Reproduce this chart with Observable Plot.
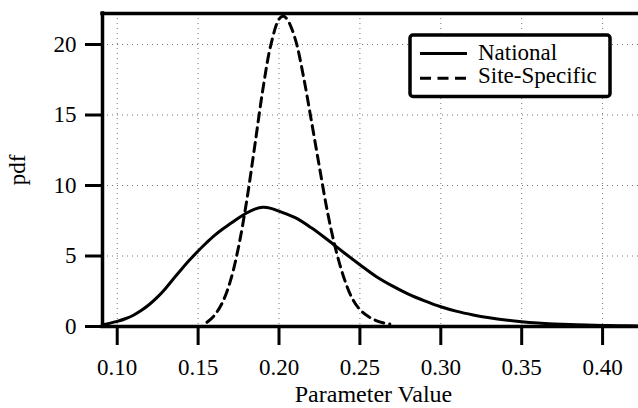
<!DOCTYPE html>
<html>
<head>
<meta charset="utf-8">
<script src="https://cdn.jsdelivr.net/npm/d3@7"></script>
<script src="https://cdn.jsdelivr.net/npm/@observablehq/plot@0.6"></script>
<style>
  html, body { margin: 0; padding: 0; background: #fff; }
  svg { display: block; }
</style>
</head>
<body>
<div id="chart"></div>
<script>
// ---- data ----
const nationalX = [0.092,0.095,0.100,0.105,0.110,0.115,0.120,0.125,0.130,0.135,0.140,0.145,0.150,0.155,0.160,0.165,0.170,0.175,0.180,0.185,0.190,0.195,0.200,0.210,0.220,0.230,0.240,0.250,0.260,0.270,0.280,0.290,0.300,0.310,0.320,0.330,0.340,0.350,0.360,0.370,0.380,0.390,0.400,0.410,0.422];
const nationalPdf = [0.15,0.22,0.36,0.55,0.80,1.15,1.58,2.10,2.72,3.42,4.10,4.75,5.35,5.92,6.45,6.90,7.30,7.70,8.05,8.32,8.45,8.38,8.18,7.72,7.00,6.15,5.25,4.38,3.55,2.88,2.30,1.82,1.40,1.07,0.82,0.62,0.46,0.34,0.25,0.185,0.135,0.10,0.075,0.055,0.04];
const siteX = [0.1555,0.160,0.165,0.170,0.175,0.180,0.185,0.190,0.195,0.200,0.2025,0.205,0.210,0.215,0.220,0.225,0.230,0.235,0.240,0.245,0.250,0.255,0.260,0.265,0.2685];
const sitePdf = [0.30,0.78,1.70,3.25,5.65,8.90,12.8,16.8,20.0,21.8,22.0,21.8,20.4,17.8,14.6,11.3,8.1,5.5,3.5,2.05,1.2,0.72,0.42,0.24,0.17];
const seriesNames = ["National", "Site-Specific"];
const xTicks = [0.10,0.15,0.20,0.25,0.30,0.35,0.40];
const xTickLabels = ["0.10","0.15","0.20","0.25","0.30","0.35","0.40"];
const yTicks = [0,5,10,15,20];
const yTickLabels = ["0","5","10","15","20"];
const xDomain = [0.0909, 0.4222];
const yDomain = [0, 22.2];
const xTitle = "Parameter Value";
const yTitle = "pdf";

const national = nationalX.map((x, i) => ({x, y: nationalPdf[i]}));
const site = siteX.map((x, i) => ({x, y: sitePdf[i]}));

const font = "'Liberation Serif', 'Times New Roman', serif";
const gridStyle = {stroke: "#000", strokeOpacity: 0.55, strokeDasharray: "1,4", strokeWidth: 1};

const chart = Plot.plot({
  width: 638,
  height: 408,
  marginLeft: 102,
  marginRight: 0,
  marginTop: 13,
  marginBottom: 82,
  x: {domain: xDomain},
  y: {domain: yDomain},
  style: {fontFamily: font, fontSize: "23px", color: "#000", background: "#fff", overflow: "visible"},
  marks: [
    Plot.gridX(xTicks, gridStyle),
    Plot.gridY(yTicks.filter(d => d > 0), gridStyle),
    Plot.line(national, {x: "x", y: "y", stroke: "#000", strokeWidth: 3, curve: "catmull-rom"}),
    Plot.line(site, {x: "x", y: "y", stroke: "#000", strokeWidth: 3, strokeDasharray: "9,6", curve: "catmull-rom"}),
    Plot.ruleY([yDomain[0]], {stroke: "#000", strokeWidth: 3.5, strokeLinecap: "square"}),
    Plot.ruleY([yDomain[1]], {stroke: "#000", strokeWidth: 3.5, strokeLinecap: "square"}),
    Plot.ruleX([xDomain[0]], {stroke: "#000", strokeWidth: 3.5, strokeLinecap: "square"}),
    Plot.axisX(xTicks, {tickSize: 19, tickPadding: 13, strokeWidth: 3, fontSize: 23, label: null,
      tickFormat: d => xTickLabels[xTicks.indexOf(d)]}),
    Plot.axisY(yTicks, {tickSize: 17, tickPadding: 9, strokeWidth: 3, fontSize: 23, label: null,
      tickFormat: d => yTickLabels[yTicks.indexOf(d)]}),
    Plot.text([xTitle], {text: d => d, frameAnchor: "bottom", lineAnchor: "middle", textAnchor: "middle", dx: 3, dy: 68, fontSize: 24}),
    Plot.text([yTitle], {text: d => d, frameAnchor: "left", lineAnchor: "middle", textAnchor: "middle", dx: -85, rotate: -90, fontSize: 23})
  ]
});

document.getElementById("chart").appendChild(chart);

const svg = d3.select(chart);
svg.selectAll("text").style("font-family", font);

// ---- legend (drawn inside the plot's svg) ----
const lg = svg.append("g").attr("font-family", font).attr("font-size", 23).attr("fill", "#000")
  .attr("text-anchor", "start");
lg.append("rect")
  .attr("x", 410).attr("y", 35).attr("width", 200).attr("height", 61.5)
  .attr("rx", 3).attr("fill", "#fff").attr("stroke", "#000").attr("stroke-width", 3.5);
const sampleY = [53.5, 78.3];
const labelY = [60.3, 83.3];
seriesNames.forEach((name, i) => {
  lg.append("line")
    .attr("x1", 420).attr("x2", 467).attr("y1", sampleY[i]).attr("y2", sampleY[i])
    .attr("stroke", "#000").attr("stroke-width", 3)
    .attr("stroke-dasharray", i === 0 ? null : "11,6.5");
  lg.append("text").attr("x", 478).attr("y", labelY[i]).attr("text-anchor", "start").text(name);
});
</script>
</body>
</html>
